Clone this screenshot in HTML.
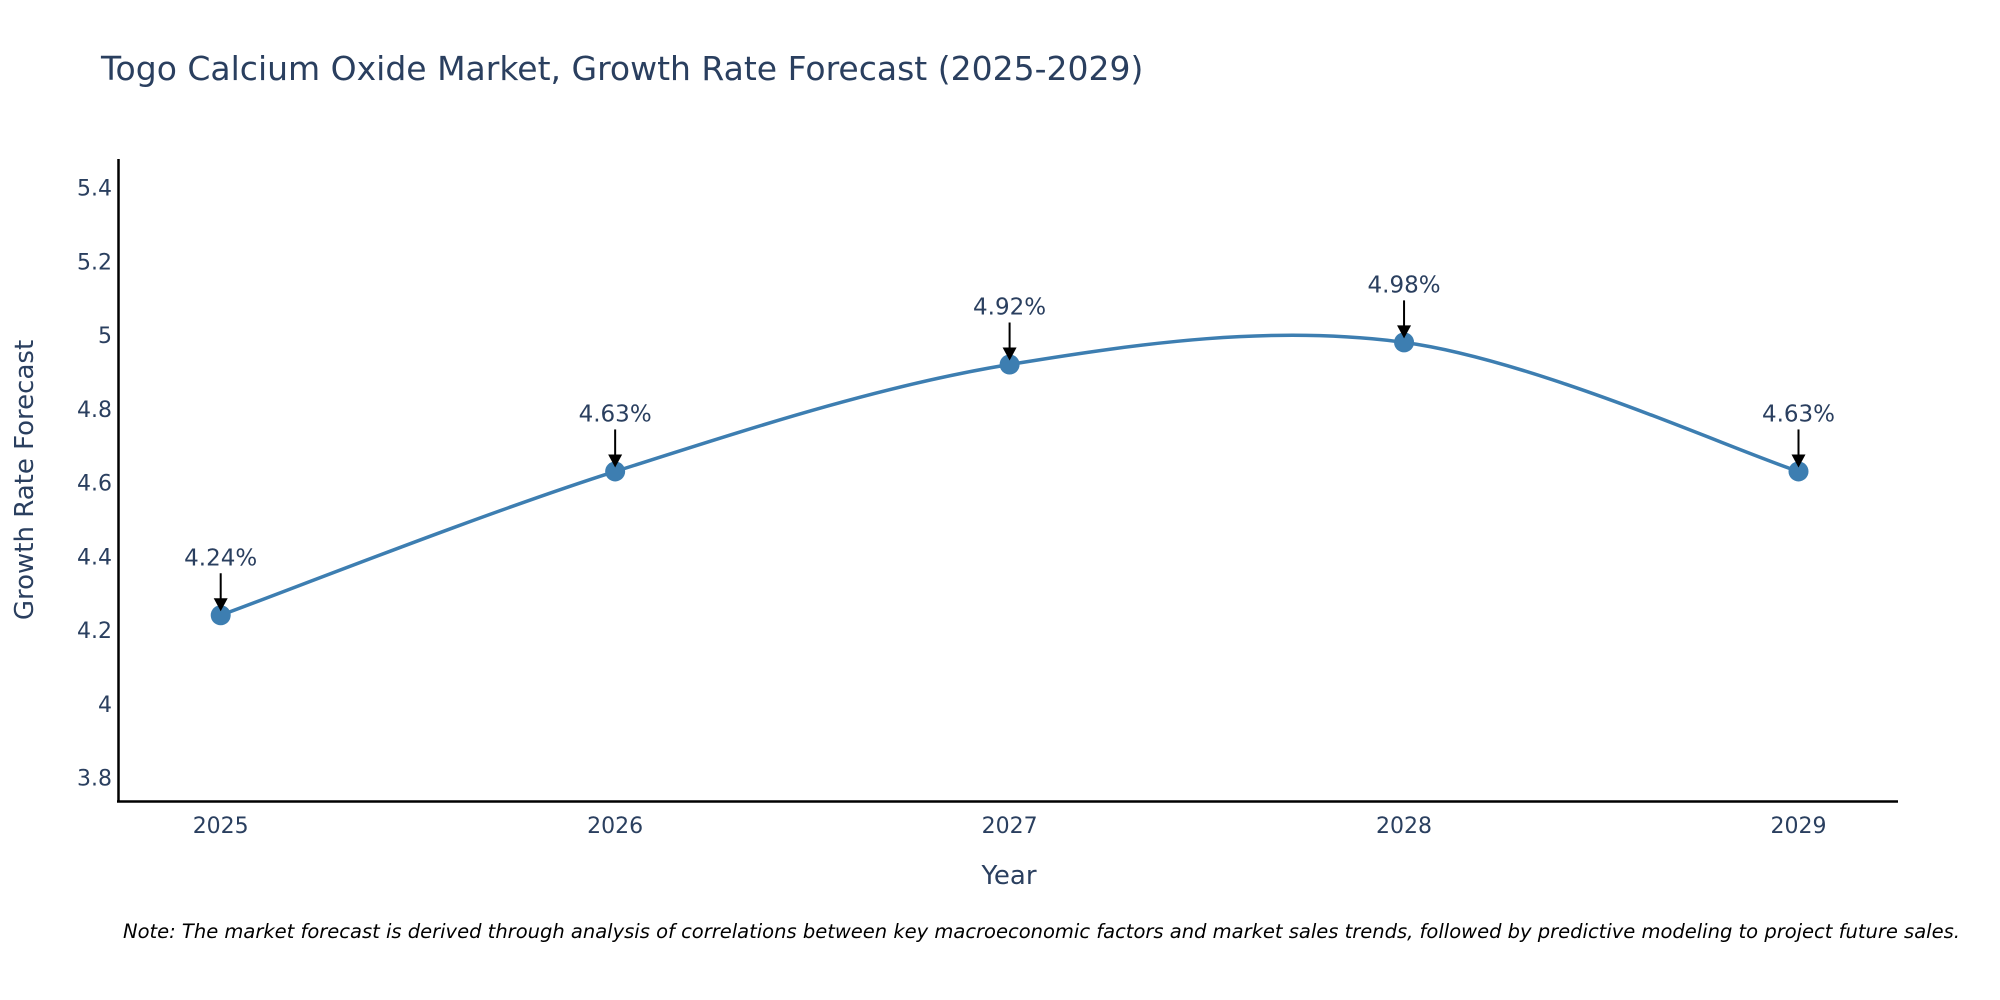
<!DOCTYPE html>
<html><head><meta charset="utf-8"><style>
html,body{margin:0;padding:0;background:#fff;overflow:hidden;}
svg{display:block;font-family:"DejaVu Sans","Liberation Sans",sans-serif;}
</style></head><body>
<svg id="chart" width="2000" height="1000">
<text x="101" y="80" font-size="33" fill="#2a3f5f">Togo Calcium Oxide Market, Growth Rate Forecast (2025-2029)</text>
<g id="yticks"></g>
<g id="xticks"></g>
<line x1="118.5" y1="159" x2="118.5" y2="802" stroke="#000" stroke-width="2.5"/>
<line x1="117" y1="801.5" x2="1898" y2="801.5" stroke="#000" stroke-width="2.5"/>
<path id="line" fill="none" stroke="#3d7eb1" stroke-width="3.5"/>
<g id="marks"></g>
<text x="33" y="480" font-size="26" fill="#2a3f5f" text-anchor="middle" transform="rotate(-90 33 480)">Growth Rate Forecast</text>
<text x="1009" y="884" font-size="26" fill="#2a3f5f" text-anchor="middle">Year</text>
<text x="123" y="938" font-size="19.5" font-style="italic" fill="#000">Note: The market forecast is derived through analysis of correlations between key macroeconomic factors and market sales trends, followed by predictive modeling to project future sales.</text>
</svg>
<script>
const years = [2025, 2026, 2027, 2028, 2029];
const values = [4.24, 4.63, 4.92, 4.98, 4.63];
const labels = ["4.24%", "4.63%", "4.92%", "4.98%", "4.63%"];
const yTicks = [3.8, 4, 4.2, 4.4, 4.6, 4.8, 5, 5.2, 5.4];
const yTickLabels = ["3.8", "4", "4.2", "4.4", "4.6", "4.8", "5", "5.2", "5.4"];

const NS = "http://www.w3.org/2000/svg";
function xs(yr){ return 220.7 + (yr - 2025) * (1798.5 - 220.7) / 4; }
function ys(v){ return 630 - (v - 4.2) * 368.75; }
function mk(tag, attrs, parent){ const e = document.createElementNS(NS, tag); for (const k in attrs) e.setAttribute(k, attrs[k]); parent.appendChild(e); return e; }

const yg = document.getElementById('yticks');
yTicks.forEach((t, i) => {
  const e = mk('text', {x: 112, y: ys(t) + 8, 'font-size': 22, fill: '#2a3f5f', 'text-anchor': 'end'}, yg);
  
  
  e.textContent = yTickLabels[i];
});
const xg = document.getElementById('xticks');
years.forEach(y => {
  const e = mk('text', {x: xs(y), y: 833, 'font-size': 22, fill: '#2a3f5f', 'text-anchor': 'middle'}, xg);
  
  
  e.textContent = y;
});

const pts = years.map((y, i) => [xs(y), ys(values[i])]);
let d = 'M' + pts[0][0] + ',' + pts[0][1];
const s = 1 / 6;
for (let i = 0; i < pts.length - 1; i++) {
  const p0 = pts[Math.max(0, i - 1)], p1 = pts[i], p2 = pts[i + 1], p3 = pts[Math.min(pts.length - 1, i + 2)];
  const c1 = [p1[0] + (p2[0] - p0[0]) * s, p1[1] + (p2[1] - p0[1]) * s];
  const c2 = [p2[0] - (p3[0] - p1[0]) * s, p2[1] - (p3[1] - p1[1]) * s];
  d += ' C' + c1 + ' ' + c2 + ' ' + p2;
}
document.getElementById('line').setAttribute('d', d);

const mg = document.getElementById('marks');
pts.forEach((p, i) => {
  const c = mk('circle', {cx: p[0], cy: p[1], r: 10, fill: '#3d7eb1'}, mg);
  
  
  const l = mk('line', {x1: p[0], y1: p[1] - 42, x2: p[0], y2: p[1] - 14, stroke: '#000', 'stroke-width': 2}, mg);
  
  
  const a = mk('polygon', {points: (p[0]-7)+','+(p[1]-17)+' '+(p[0]+7)+','+(p[1]-17)+' '+p[0]+','+(p[1]-4), fill: '#000'}, mg);
  
  
  const t = mk('text', {x: p[0], y: p[1] - 50, 'font-size': 23, fill: '#2a3f5f', 'text-anchor': 'middle'}, mg);
  
  
  t.textContent = labels[i];
});
</script>
</body></html>
